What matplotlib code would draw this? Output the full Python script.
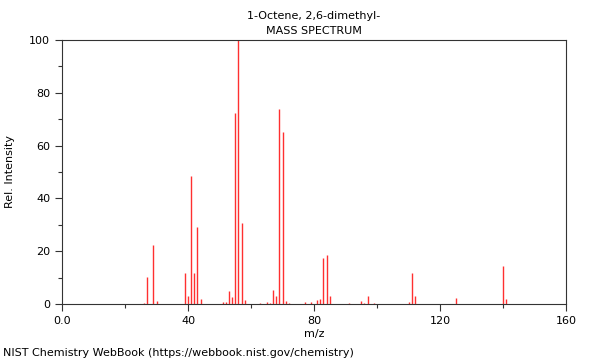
import matplotlib
matplotlib.use("Agg")
import matplotlib.pyplot as plt

# m/z and relative intensity
mz = [26, 27, 29, 30, 39, 40, 41, 42, 43, 44, 51, 52, 53, 54, 55, 56, 57, 58,
      63, 65, 66, 67, 68, 69, 70, 71, 72, 77, 79, 81, 82, 83, 84, 85, 91,
      95, 96, 97, 99, 110, 111, 112, 125, 140, 141]
intensity = [0.5, 10.2, 22.5, 1.0, 11.7, 3.1, 48.5, 11.7, 29.3, 1.8, 0.8, 0.9,
             4.9, 2.6, 72.3, 100, 30.7, 1.4,
             0.3, 0.9, 0.4, 5.3, 3.1, 73.7, 65.0, 1.1, 0.4, 0.9, 0.6, 1.4, 1.8,
             17.4, 18.5, 3.0, 0.3,
             1.0, 0.4, 2.9, 0.3, 0.9, 11.7, 3.0, 2.3, 14.4, 1.8]

x_ticks = [0, 40, 80, 120, 160]
x_labels = ["0.0", "40", "80", "120", "160"]
y_ticks = [0, 20, 40, 60, 80, 100]

plt.rcParams["font.family"] = "DejaVu Sans"
plt.rcParams["font.size"] = 8

fig = plt.figure(figsize=(6, 3.6), dpi=100)
ax = fig.add_axes([62 / 600, 1 - 304 / 360, 504 / 600, 264 / 360])

ax.vlines(mz, 0, intensity, color="#ff3030", linewidth=1)

ax.set_xlim(0, 160)
ax.set_ylim(0, 100)
ax.set_xticks(x_ticks)
ax.set_xticklabels(x_labels)
ax.set_xticks(range(0, 161, 20), minor=True)
ax.set_yticks(y_ticks)
ax.set_yticks(range(0, 101, 10), minor=True)
ax.tick_params(which="major", length=5, width=0.8, colors="#333333", labelcolor="black")
ax.tick_params(which="minor", length=3, width=0.8, colors="#333333")
for s in ax.spines.values():
    s.set_color("#333333")
    s.set_linewidth(0.8)

ax.set_xlabel("m/z", labelpad=2)
ax.set_ylabel("Rel. Intensity", labelpad=10)

fig.text(0.523, 0.955, "1-Octene, 2,6-dimethyl-", ha="center", va="center")
fig.text(0.523, 0.913, "MASS SPECTRUM", ha="center", va="center")
fig.text(0.005, 0.02, "NIST Chemistry WebBook (https://webbook.nist.gov/chemistry)",
         ha="left", va="center")

fig.savefig("out.png", dpi=100)
